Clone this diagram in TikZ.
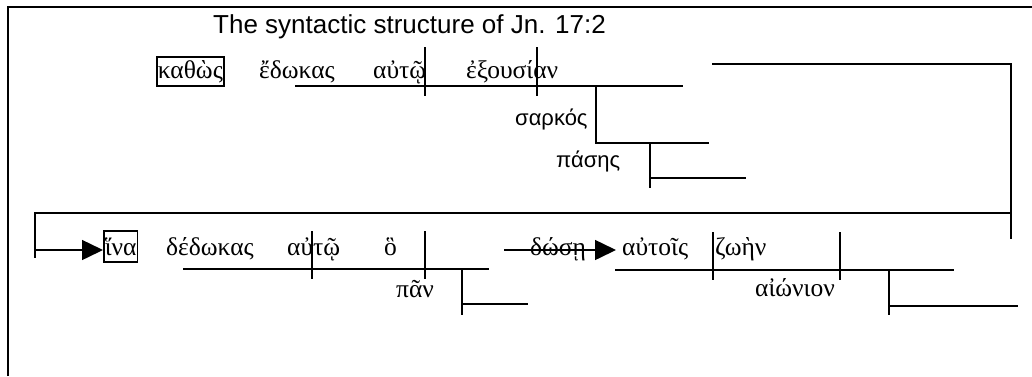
\documentclass[tikz,border=0pt]{standalone}
\usepackage{fontspec}
\setmainfont{Liberation Serif}
\newfontfamily\grsans{Liberation Sans}
\usetikzlibrary{arrows.meta}
\begin{document}
\begin{tikzpicture}[x=1pt,y=-1pt,
  ln/.style={line width=1.5pt,line cap=rect},
  frm/.style={line width=1.8pt},
  gk/.style={font=\fontsize{25.5}{29}\selectfont,inner sep=0pt,anchor=base west},
  gks/.style={font=\grsans\fontsize{22}{26}\selectfont,inner sep=0pt,anchor=base west},
  boxed/.style={draw,line width=1.5pt,inner xsep=1pt,inner ysep=1.5pt},
  tip/.style={-{Triangle[length=21pt,width=20pt]},line width=1.5pt},
  ttl/.style={font=\grsans\fontsize{26}{30}\selectfont,inner sep=0pt,anchor=base west}]
\useasboundingbox (0,0) rectangle (1032,376);
% frame
\draw[frm] (8,376) -- (8,7) -- (1032,7);
% title
\node[ttl] (title) at (213,33) {The syntactic structure of Jn. 17:2};
% row 1 words
\node[gk,boxed,text height=19.5pt,text depth=6.5pt] (kathos) at (156,78) {καθὼς};
\node[gk] (edokas) at (259,78) {ἔδωκας};
\node[gk] (auto1) at (373,78) {αὐτῷ};
\node[gk] (exousian) at (466,78) {ἐξουσίαν};
\node[gks] (sarkos) at (515,125) {σαρκός};
\node[gks] (pases) at (556,167) {πάσης};
% row 1 lines
\draw[ln] (296,86) -- (682,86);
\draw[ln] (425,48) -- (425,95);
\draw[ln] (537,48) -- (537,95);
\draw[ln] (596,86) -- (596,143) -- (708,143);
\draw[ln] (650,143) -- (650,187);
\draw[ln] (650,178) -- (745,178);
\draw[ln] (713,64) -- (1011,64) -- (1011,238);
% link to row 2
\draw[ln] (35,257) -- (35,213) -- (1011,213);
% row 2 words
\node[gk,boxed,text height=22.5pt,text depth=5.5pt] (hina) at (103,255) {ἵνα};
\node[gk] (dedokas) at (166,255) {δέδωκας};
\node[gk] (auto2) at (287,255) {αὐτῷ};
\node[gk] (ho) at (384,255) {ὃ};
\node[gk] (pan) at (396,297) {πᾶν};
\node[gk] (dose) at (530,255) {δώσῃ};
\node[gk] (autois) at (622,255) {αὐτοῖς};
\node[gk] (zoen) at (715,255) {ζωὴν};
\node[gk] (aionion) at (755,296) {αἰώνιον};
% arrows
\coordinate (a1) at (35,250);
\draw[tip] (a1) -- (hina.west |- a1);
\coordinate (a2) at (504,250);
\draw[tip] (a2) -- ([xshift=-6pt]autois.west |- a2);
% row 2 lines
\draw[ln] (184,269) -- (488,269);
\draw[ln] (312,232) -- (312,278);
\draw[ln] (425,232) -- (425,278);
\draw[ln] (462,269) -- (462,314);
\draw[ln] (462,304) -- (527,304);
\draw[ln] (616,270) -- (953,270);
\draw[ln] (713,233) -- (713,279);
\draw[ln] (840,233) -- (840,279);
\draw[ln] (889,270) -- (889,314);
\draw[ln] (889,306) -- (1017,306);
\end{tikzpicture}
\end{document}
